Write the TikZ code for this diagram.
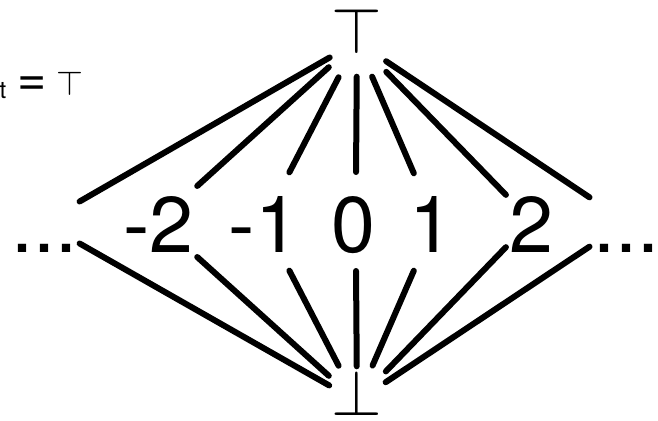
\documentclass[tikz,border=0pt]{standalone}
\usepackage{fontspec}
\newfontfamily\heros{TeX Gyre Heros}
\usetikzlibrary{calc}
\begin{document}
\begin{tikzpicture}[x=1pt,y=-1pt,
  edge/.style={line width=6pt, line cap=round, shorten >=3pt},
  num/.style={font=\heros\fontsize{79}{79}\selectfont, inner sep=0pt, anchor=base west},
  lbl/.style={inner sep=0pt, anchor=base west},
  lattice/.style={inner sep=0pt, scale=6.5}]
\useasboundingbox (0,0) rectangle (658,420);

% label at top left (cut by the border)
\node[lbl, font=\heros\fontsize{24}{24}\selectfont] (sub) at (-0.5,98) {t};
\node[lbl, font=\heros\fontsize{50}{50}\selectfont] (eq) at (17,95) {=};
\node[lbl, scale=3.46] (tp) at (56,95) {$\top$};

% top and bottom
\node[lattice, anchor=north] (top) at (357,7) {$\top$};
\node[lattice, anchor=south] (bot) at (357,417) {$\bot$};
\coordinate (hubT) at ([yshift=13pt]top.south);
\coordinate (hubB) at ([yshift=-32pt]bot.north);

% elements
\node[num] (ldots) at (11,252) {...};
\node[num] (m2) at (123,252) {-2};
\node[num] (m1) at (228.5,252) {-1};
\node[num] (z) at (331.7,252) {0};
\node[num] (p1) at (409,252) {1};
\node[num] (p2) at (509.5,252) {2};
\node[num] (rdots) at (593,252) {...};

% attachment points
\coordinate (uL) at (77,203);
\coordinate (um2) at (195,188);
\coordinate (um1) at (288,175);
\coordinate (uz) at (356,175);
\coordinate (up1) at (415,176);
\coordinate (up2) at (508,197);
\coordinate (uR) at (592,199);
\coordinate (dL) at (77,242);
\coordinate (dm2) at (195,255);
\coordinate (dm1) at (288,268);
\coordinate (dz) at (356,268);
\coordinate (dp1) at (415,268);
\coordinate (dp2) at (508,245);
\coordinate (dR) at (592,245);

\foreach \c/\s in {uL/31.5, um2/38, um1/40, uz/35, up1/38, up2/42, uR/35}
  \draw[edge, shorten <=\s pt] (hubT) -- (\c);
\foreach \c/\s in {dL/32, dm2/38, dm1/40, dz/35, dp1/39, dp2/41.5, dR/34.4}
  \draw[edge, shorten <=\s pt] (hubB) -- (\c);
\end{tikzpicture}
\end{document}
